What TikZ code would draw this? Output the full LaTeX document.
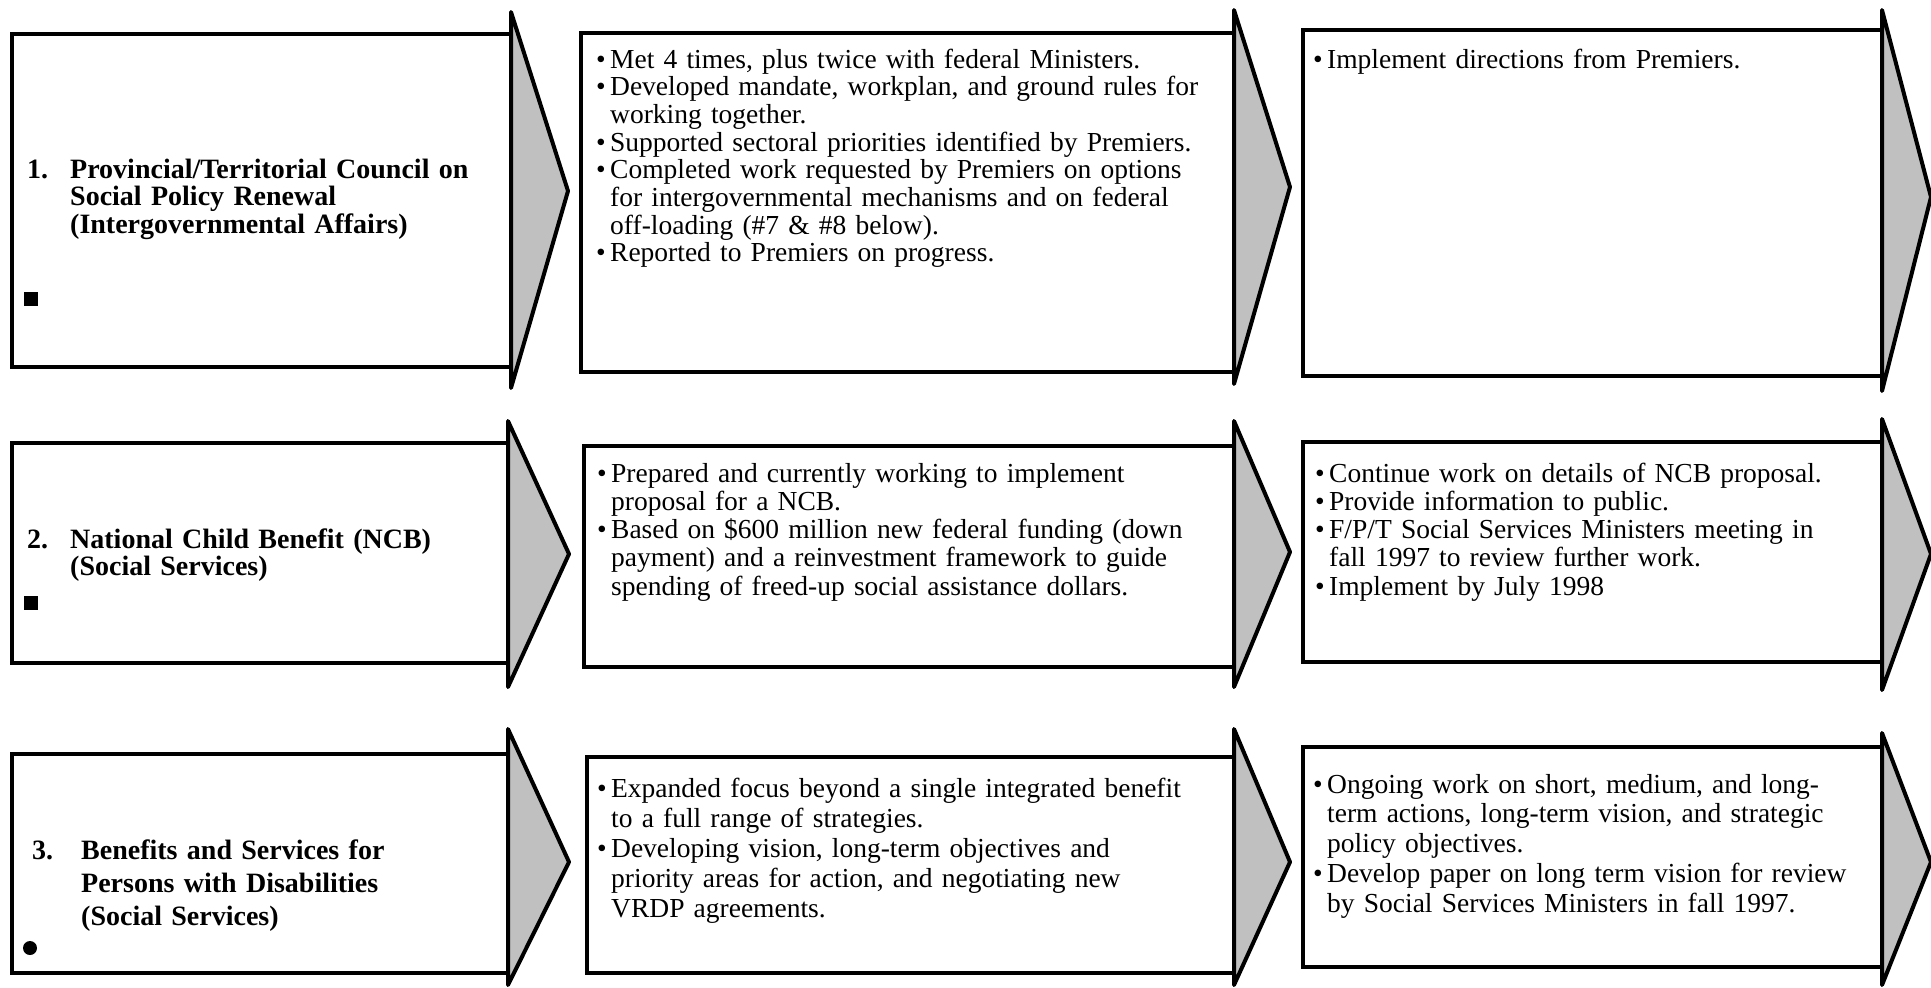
\documentclass[tikz,border=0pt]{standalone}
\usepackage{fontspec}
\setmainfont{Liberation Serif}
\usetikzlibrary{fit}
\definecolor{chevgrey}{HTML}{C0C0C0}

% bullet item with hanging indent
\newlength{\bulw}
\setlength{\bulw}{14pt}
\newcommand{\itm}[1]{\hangindent=\bulw\hangafter=1\noindent\makebox[\bulw][l]{\textbullet}#1\par}
% numbered heading with hanging indent
\newcommand{\ttl}[3]{\hangindent=#1\hangafter=1\noindent\makebox[#1][l]{#2}#3\par}

\begin{document}
\begin{tikzpicture}[x=1pt, y=-1pt,
    % Define styles for the boxes and the grey chevrons
    panel/.style={draw, line width=4pt, inner sep=0pt, outer sep=0pt},
    chev/.style={draw, fill=chevgrey, line width=4pt, line join=round, line cap=round},
    % Define styles for the texts
    notes/.style={anchor=base west, inner sep=0pt, text width=#1, align=left,
                  font=\fontsize{27.5}{27.7}\selectfont},
    heading/.style={anchor=base west, inner sep=0pt, text width=470pt, align=left,
                  font=\fontsize{28}{27.7}\selectfont\bfseries},
    sqmark/.style={fill, rectangle, minimum size=14pt, inner sep=0pt},
    dotmark/.style={fill, circle, minimum size=14pt, inner sep=0pt}
]

    \useasboundingbox (0,0) rectangle (1931,988);

    % --- Helper Macro for Chevrons ---
    % Arguments: (panel, top of arrow, bottom of arrow, tip)
    \newcommand{\chevron}[4]{
        \draw[chev] (#1.east |- 0,#2) -- (#4) -- (#1.east |- 0,#3) -- cycle;
    }

    % ================= ROW 1 =================
    \node[panel, fit={(12,34) (511,367)}]    (p11) {};
    \node[panel, fit={(581,33) (1234,372)}]  (p12) {};
    \node[panel, fit={(1303,30) (1882,376)}] (p13) {};
    \chevron{p11}{12}{388}{568,191}
    \chevron{p12}{10}{384}{1290,187}
    \chevron{p13}{10}{391}{1931,197}

    \node[heading] (t11) at (27,178)
        {\ttl{43pt}{1.}{Provincial/Territorial Council on\newline Social Policy Renewal\newline (Intergovernmental Affairs)}};
    \node[sqmark] (m11) at (31,299) {};

    \node[notes=680pt] (t12) at (596,68) {%
        \itm{Met 4 times, plus twice with federal Ministers.}
        \itm{Developed mandate, workplan, and ground rules for\newline working together.}
        \itm{Supported sectoral priorities identified by Premiers.}
        \itm{Completed work requested by Premiers on options\newline for intergovernmental mechanisms and on federal\newline off-loading (\#7 \& \#8 below).}
        \itm{Reported to Premiers on progress.}};

    \node[notes=600pt] (t13) at (1313,68) {%
        \itm{Implement directions from Premiers.}};

    % ================= ROW 2 =================
    \node[panel, fit={(12,443) (508,663)}]   (p21) {};
    \node[panel, fit={(584,446) (1234,667)}] (p22) {};
    \node[panel, fit={(1303,442) (1882,662)}] (p23) {};
    \chevron{p21}{421}{687}{569,554}
    \chevron{p22}{421}{687}{1290,552}
    \chevron{p23}{419}{690}{1931,554}

    \node[heading] (t21) at (27,548)
        {\ttl{43pt}{2.}{National Child Benefit (NCB)\newline (Social Services)}};
    \node[sqmark] (m21) at (31,603) {};

    \node[notes=680pt, font=\fontsize{27.5}{28.3}\selectfont] (t22) at (597,482) {%
        \itm{Prepared and currently working to implement\newline proposal for a NCB.}
        \itm{Based on \$600 million new federal funding (down\newline payment) and a reinvestment framework to guide\newline spending of freed-up social assistance dollars.}};

    \node[notes=600pt, font=\fontsize{27.5}{28.3}\selectfont] (t23) at (1315,482) {%
        \itm{Continue work on details of NCB proposal.}
        \itm{Provide information to public.}
        \itm{F/P/T Social Services Ministers meeting in\newline fall 1997 to review further work.}
        \itm{Implement by July 1998}};

    % ================= ROW 3 =================
    \node[panel, fit={(12,754) (508,973)}]   (p31) {};
    \node[panel, fit={(587,757) (1234,973)}] (p32) {};
    \node[panel, fit={(1303,747) (1882,967)}] (p33) {};
    \chevron{p31}{729}{985}{569,862}
    \chevron{p32}{729}{985}{1290,862}
    \chevron{p33}{733}{985}{1931,862}

    \node[heading, font=\fontsize{28}{33}\selectfont\bfseries] (t31) at (32,859)
        {\ttl{49pt}{3.}{Benefits and Services for\newline Persons with Disabilities\newline (Social Services)}};
    \node[dotmark] (m31) at (30,948) {};

    \node[notes=680pt, font=\fontsize{27.5}{30.2}\selectfont] (t32) at (597,797) {%
        \itm{Expanded focus beyond a single integrated benefit\newline to a full range of strategies.}
        \itm{Developing vision, long-term objectives and\newline priority areas for action, and negotiating new\newline VRDP agreements.}};

    \node[notes=600pt, font=\fontsize{27.5}{29.9}\selectfont] (t33) at (1313,793) {%
        \itm{Ongoing work on short, medium, and long-\newline term actions, long-term vision, and strategic\newline policy objectives.}
        \itm{Develop paper on long term vision for review\newline by Social Services Ministers in fall 1997.}};

\end{tikzpicture}
\end{document}
